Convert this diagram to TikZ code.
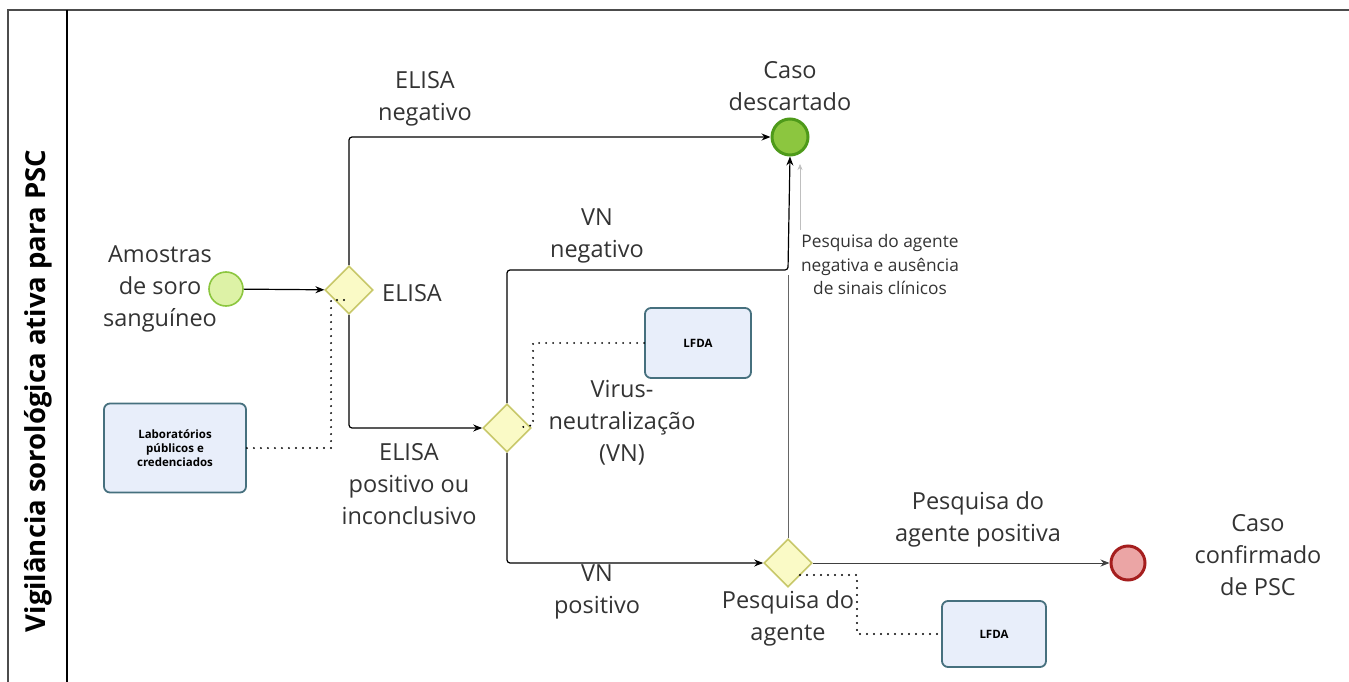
\documentclass[tikz,border=0pt]{standalone}
\usepackage{fontspec}
\setmainfont{Open Sans}
\usetikzlibrary{arrows.meta,shapes.geometric}
\definecolor{startfill}{HTML}{DDF2A6}
\definecolor{startdraw}{HTML}{8CC63F}
\definecolor{endgfill}{HTML}{8CC63F}
\definecolor{endgdraw}{HTML}{4E9A1A}
\definecolor{endrfill}{HTML}{EBA5A5}
\definecolor{endrdraw}{HTML}{A51E1E}
\definecolor{gwfill}{HTML}{FAFAC6}
\definecolor{gwdraw}{HTML}{C8C86A}
\definecolor{boxfill}{HTML}{E8EEFA}
\definecolor{boxdraw}{HTML}{46707E}
\definecolor{txt}{HTML}{333333}
\tikzset{
  startev/.style={circle,draw=startdraw,fill=startfill,line width=1.6pt,minimum size=34pt,inner sep=0pt},
  endgreen/.style={circle,draw=endgdraw,fill=endgfill,line width=3pt,minimum size=36pt,inner sep=0pt},
  endred/.style={circle,draw=endrdraw,fill=endrfill,line width=3pt,minimum size=34pt,inner sep=0pt},
  gw/.style={diamond,draw=gwdraw,fill=gwfill,line width=1.6pt,minimum size=48pt,inner sep=0pt},
  taskbox/.style={rectangle,rounded corners=6pt,draw=boxdraw,fill=boxfill,line width=1.8pt,align=center,font=\fontsize{11.5}{14}\selectfont\bfseries,text=black},
  lbl/.style={align=center,font=\fontsize{23.5}{32}\selectfont,text=txt,inner sep=0pt},
  slbl/.style={align=center,font=\fontsize{17.3}{23.5}\selectfont,text=txt,inner sep=0pt},
  flow/.style={draw=black,line width=1.2pt,-{Stealth[length=9pt,width=7pt]},rounded corners=3pt},
  thinflow/.style={draw=black!75,line width=0.8pt,-{Stealth[length=9pt,width=7pt]}},
  assoc/.style={draw=black,line width=2.2pt,dash pattern=on 0pt off 7pt,line cap=round},
}
\begin{document}
\begin{tikzpicture}[x=1pt,y=-1pt]
\useasboundingbox (0,0) rectangle (1349,682);
% pool
\draw[draw=black!70,line width=2pt] (8,682) -- (8,10) -- (1349,10);
\draw[draw=black,line width=1.4pt] (67,10) -- (67,682);
\node[rotate=90,font=\fontsize{27.5}{30}\selectfont\bfseries,text=black] (pool) at (38,391) {Vigilância sorológica ativa para PSC};

% nodes
\node[startev] (start) at (226,289) {};
\node[lbl] (startl) at (160,289) {Amostras\\de soro\\sanguíneo};
\node[gw] (elisa) at (349,290) {};
\node[lbl,anchor=west] (elisal) at (382,293) {ELISA};
\node[taskbox,minimum width=142pt,minimum height=89pt] (lab) at (175,448) {Laboratórios\\públicos e\\credenciados};
\node[endgreen] (desc) at (790,137) {};
\node[lbl] (descl) at (790,86) {Caso\\descartado};
\node[gw] (vn) at (507,428) {};
\node[lbl] (vnl) at (622,423) {Virus-\\neutralização\\(VN)};
\node[taskbox,minimum width=106pt,minimum height=70pt] (lfda1) at (698,343) {LFDA};
\node[gw] (pa) at (788,563) {};
\node[lbl] (pal) at (788,618) {Pesquisa do\\agente};
\node[taskbox,minimum width=104pt,minimum height=66pt] (lfda2) at (994,634) {LFDA};
\node[endred] (conf) at (1128,563) {};
\node[lbl] (confl) at (1258,555) {Caso\\confirmado\\de PSC};

% edge labels
\node[lbl] (l1) at (425,99) {ELISA\\negativo};
\node[lbl] (l2) at (409,484) {ELISA\\positivo ou\\inconclusivo};
\node[lbl] (l3) at (597,236) {VN\\negativo};
\node[lbl] (l4) at (597,592) {VN\\positivo};
\node[lbl] (l5) at (978,519) {Pesquisa do\\agente positiva};
\node[slbl] (l6) at (880,265) {Pesquisa do agente\\negativa e ausência\\de sinais clínicos};

% flows
\draw[flow] (start) -- (elisa);
\draw[flow] (elisa.north) |- (desc);
\draw[flow] (elisa.south) |- (vn);
\draw[flow] (vn.north) |- (788,270) -- (desc.south);
\draw[flow] (vn.south) |- (pa);
\draw[thinflow] (pa) -- (conf);
\draw[draw=black!60,line width=0.8pt] (pa.north) -- (788,275);
\draw[draw=black!25,line width=0.6pt,-{Stealth[length=6pt,width=5pt]}] (800,230) -- (800,164);

% associations
\draw[assoc] (lab.east) -| (331,300) -- (349,300);
\draw[assoc] (lfda1.west) -| (533,425) -- (518,428);
\draw[assoc] (800,575) -- (857,575) |- (lfda2.west);
\end{tikzpicture}
\end{document}
